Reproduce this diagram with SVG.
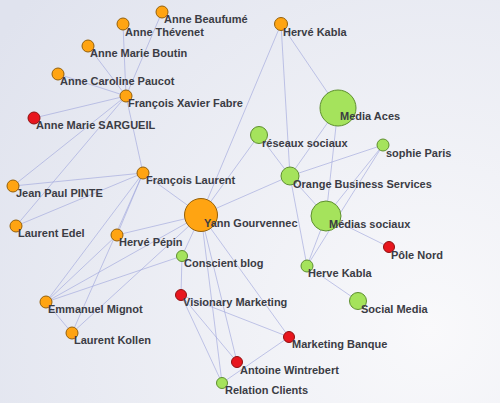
<svg xmlns="http://www.w3.org/2000/svg" width="500" height="403" viewBox="0 0 500 403">
<defs>
<radialGradient id="bg" cx="430" cy="330" r="520" gradientUnits="userSpaceOnUse">
<stop offset="0" stop-color="#f9f9fb"/>
<stop offset="1" stop-color="#e0e3ee"/>
</radialGradient>
<style>
.e{stroke:#9ea4dc;stroke-opacity:0.62;stroke-width:1;fill:none}
.o{fill:#ffa412;stroke:#94600a;stroke-width:1}
.g{fill:#a5e35c;stroke:#5e8f30;stroke-width:1}
.r{fill:#e8161e;stroke:#8e1010;stroke-width:1}
text{font-family:"Liberation Sans",Arial,sans-serif;font-size:11px;font-weight:bold;fill:#3b3c44}
</style>
</defs>
<rect width="500" height="403" fill="url(#bg)"/>
<g id="connectors">
<line class="e" x1="126" y1="96" x2="162" y2="12"/>
<line class="e" x1="126" y1="96" x2="123" y2="24"/>
<line class="e" x1="126" y1="96" x2="88" y2="46"/>
<line class="e" x1="126" y1="96" x2="58" y2="74"/>
<line class="e" x1="126" y1="96" x2="34" y2="118"/>
<line class="e" x1="126" y1="96" x2="143" y2="173"/>
<line class="e" x1="126" y1="96" x2="13" y2="186"/>
<line class="e" x1="126" y1="96" x2="16" y2="226"/>
<line class="e" x1="143" y1="173" x2="13" y2="186"/>
<line class="e" x1="143" y1="173" x2="16" y2="226"/>
<line class="e" x1="143" y1="173" x2="201" y2="215"/>
<line class="e" x1="143" y1="173" x2="117" y2="235"/>
<line class="e" x1="143" y1="173" x2="46" y2="302"/>
<line class="e" x1="143" y1="173" x2="72" y2="333"/>
<line class="e" x1="117" y1="235" x2="201" y2="215"/>
<line class="e" x1="117" y1="235" x2="46" y2="302"/>
<line class="e" x1="46" y1="302" x2="72" y2="333"/>
<line class="e" x1="46" y1="302" x2="201" y2="215"/>
<line class="e" x1="46" y1="302" x2="182" y2="256"/>
<line class="e" x1="72" y1="333" x2="201" y2="215"/>
<line class="e" x1="201" y1="215" x2="182" y2="256"/>
<line class="e" x1="182" y1="256" x2="181" y2="295"/>
<line class="e" x1="201" y1="215" x2="222" y2="383"/>
<line class="e" x1="201" y1="215" x2="237" y2="362"/>
<line class="e" x1="201" y1="215" x2="289" y2="337"/>
<line class="e" x1="181" y1="295" x2="222" y2="383"/>
<line class="e" x1="181" y1="295" x2="237" y2="362"/>
<line class="e" x1="181" y1="295" x2="289" y2="337"/>
<line class="e" x1="222" y1="383" x2="289" y2="337"/>
<line class="e" x1="201" y1="215" x2="281" y2="24"/>
<line class="e" x1="201" y1="215" x2="259" y2="135"/>
<line class="e" x1="201" y1="215" x2="290" y2="176"/>
<line class="e" x1="290" y1="176" x2="383" y2="145"/>
<line class="e" x1="281" y1="24" x2="290" y2="176"/>
<line class="e" x1="281" y1="24" x2="338" y2="108"/>
<line class="e" x1="338" y1="108" x2="290" y2="176"/>
<line class="e" x1="338" y1="108" x2="326" y2="216"/>
<line class="e" x1="259" y1="135" x2="290" y2="176"/>
<line class="e" x1="290" y1="176" x2="326" y2="216"/>
<line class="e" x1="290" y1="176" x2="307" y2="266"/>
<line class="e" x1="383" y1="145" x2="326" y2="216"/>
<line class="e" x1="383" y1="145" x2="307" y2="266"/>
<line class="e" x1="326" y1="216" x2="389" y2="247"/>
<line class="e" x1="326" y1="216" x2="307" y2="266"/>
<line class="e" x1="307" y1="266" x2="358" y2="301"/>
</g>
<g id="n-beaufume"><circle class="o" cx="162" cy="12" r="6"/><text x="164" y="23">Anne Beaufumé</text></g>
<g id="n-thevenet"><circle class="o" cx="123" cy="24" r="6"/><text x="125" y="36">Anne Thévenet</text></g>
<g id="n-boutin"><circle class="o" cx="88" cy="46" r="6"/><text x="90" y="57">Anne Marie Boutin</text></g>
<g id="n-paucot"><circle class="o" cx="58" cy="74" r="6"/><text x="60" y="85">Anne Caroline Paucot</text></g>
<g id="n-fxf"><circle class="o" cx="126" cy="96" r="6"/><text x="128" y="107">François Xavier Fabre</text></g>
<g id="n-sargueil"><circle class="r" cx="34" cy="118" r="6"/><text x="36" y="129">Anne Marie SARGUEIL</text></g>
<g id="n-hktop"><circle class="o" cx="281" cy="24" r="6.5"/><text x="283" y="36">Hervé Kabla</text></g>
<g id="n-mediaaces"><circle class="g" cx="338" cy="108" r="18"/><text x="340" y="120">Media Aces</text></g>
<g id="n-reseaux"><circle class="g" cx="259" cy="135" r="8.5"/><text x="262" y="147">réseaux sociaux</text></g>
<g id="n-sophie"><circle class="g" cx="383" cy="145" r="6"/><text x="386" y="157">sophie Paris</text></g>
<g id="n-obs"><circle class="g" cx="290" cy="176" r="9"/><text x="293" y="188">Orange Business Services</text></g>
<g id="n-medias"><circle class="g" cx="326" cy="216" r="15"/><text x="329" y="228">Médias sociaux</text></g>
<g id="n-polenord"><circle class="r" cx="389" cy="247" r="5.5"/><text x="391" y="259">Pôle Nord</text></g>
<g id="n-hkl"><circle class="g" cx="307" cy="266" r="6"/><text x="308" y="277">Herve Kabla</text></g>
<g id="n-socialmedia"><circle class="g" cx="358" cy="301" r="8.5"/><text x="361" y="313">Social Media</text></g>
<g id="n-mb"><circle class="r" cx="289" cy="337" r="5.5"/><text x="292" y="348">Marketing Banque</text></g>
<g id="n-aw"><circle class="r" cx="237" cy="362" r="5.5"/><text x="240" y="374">Antoine Wintrebert</text></g>
<g id="n-rc"><circle class="g" cx="222" cy="383" r="5.5"/><text x="225" y="394">Relation Clients</text></g>
<g id="n-visionary"><circle class="r" cx="181" cy="295" r="5.5"/><text x="183" y="306">Visionary Marketing</text></g>
<g id="n-conscient"><circle class="g" cx="182" cy="256" r="5.5"/><text x="184" y="267">Conscient blog</text></g>
<g id="n-yann"><circle class="o" cx="201" cy="215" r="16.5"/><text x="204" y="227">Yann Gourvennec</text></g>
<g id="n-fl"><circle class="o" cx="143" cy="173" r="6"/><text x="146" y="184">François Laurent</text></g>
<g id="n-jpp"><circle class="o" cx="13" cy="186" r="6"/><text x="16" y="197">Jean Paul PINTE</text></g>
<g id="n-edel"><circle class="o" cx="16" cy="226" r="6"/><text x="18" y="237">Laurent Edel</text></g>
<g id="n-hp"><circle class="o" cx="117" cy="235" r="6"/><text x="119" y="246">Hervé Pépin</text></g>
<g id="n-em"><circle class="o" cx="46" cy="302" r="6"/><text x="48" y="313">Emmanuel Mignot</text></g>
<g id="n-lk"><circle class="o" cx="72" cy="333" r="6"/><text x="74" y="344">Laurent Kollen</text></g>
</svg>
